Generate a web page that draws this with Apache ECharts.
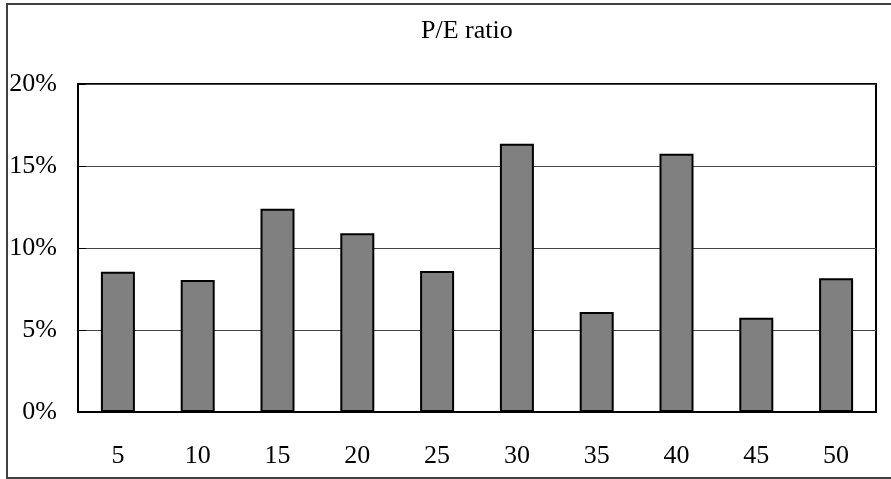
<!DOCTYPE html>
<html><head><meta charset="utf-8">
<script src="https://cdn.jsdelivr.net/npm/echarts@6/dist/echarts.min.js"></script>
<style>html,body{margin:0;padding:0;background:#fff}#c{width:891px;height:479px}</style>
</head><body><div id="c"></div>
<script>
const categories = ['5','10','15','20','25','30','35','40','45','50'];
const peValues = [8.55, 8.05, 12.4, 10.9, 8.6, 16.35, 6.1, 15.75, 5.75, 8.15];
const yTicks = [0, 5, 10, 15, 20];
const chartTitle = 'P/E ratio';

const font = '"Liberation Serif", "DejaVu Serif", serif';
const chart = echarts.init(document.getElementById('c'), null, {renderer:'canvas'});
chart.setOption({
  animation: false,
  backgroundColor: '#fff',
  title: {
    text: chartTitle, left: 416, top: 13,
    textStyle: {fontFamily: font, fontSize: 26, fontWeight: 'normal', color: '#000'}
  },
  graphic: [{
    type: 'rect', shape: {x: 7, y: 4, width: 900, height: 474},
    style: {fill: 'none', stroke: '#404040', lineWidth: 2}, z: -1
  }],
  grid: {left: 78, right: 15, top: 84, bottom: 67, show: true,
    borderColor: '#000', borderWidth: 2, backgroundColor: 'transparent'},
  xAxis: {
    type: 'category', data: categories,
    axisLine: {lineStyle: {color: '#000', width: 2}},
    axisTick: {inside: true, length: 4, lineStyle: {color: '#444'}},
    axisLabel: {fontFamily: font, fontSize: 26, color: '#000', margin: 31}
  },
  yAxis: {
    type: 'value', min: yTicks[0], max: yTicks[yTicks.length-1], interval: 5,
    axisLine: {show: true, lineStyle: {color: '#000', width: 2}},
    axisTick: {show: true, inside: true, length: 8, lineStyle: {color: '#000'}},
    splitLine: {lineStyle: {color: '#444', width: 1}},
    axisLabel: {fontFamily: font, fontSize: 26, color: '#000', margin: 21,
      formatter: v => v + '%'}
  },
  series: [{
    type: 'bar', data: peValues, barWidth: 34,
    itemStyle: {color: '#808080', borderColor: '#000', borderWidth: 2}
  }]
});
</script></body></html>
